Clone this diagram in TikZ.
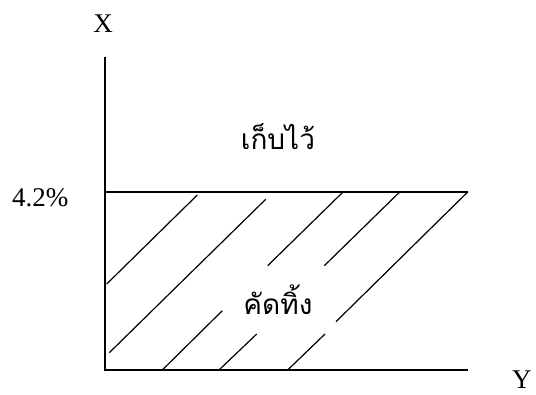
\documentclass[tikz,border=0pt]{standalone}
\usepackage{fontspec}
\setmainfont{Liberation Serif}
\newfontfamily\thaifont[Script=Thai]{Loma}
\begin{document}
\begin{tikzpicture}[x=1pt,y=-1pt,
  ax/.style={line width=1.4pt},
  hatch/.style={line width=1.2pt},
  lbl/.style={inner sep=0pt,font=\fontsize{27}{32}\selectfont},
  thai/.style={inner sep=0pt,font=\thaifont\fontsize{28}{34}\selectfont}]
\useasboundingbox (0,0) rectangle (536,395);
% axes
\coordinate (top) at (105,57);
\coordinate (orig) at (105,370);
\coordinate (xend) at (468,370);
\coordinate (lvlL) at (105,192);
\coordinate (lvlR) at (468,192);
\draw[ax] (top) -- (orig) -- (xend);
\draw[ax] (lvlL) -- (lvlR);
% hatching
\draw[hatch] (106.7,284) -- (197.3,195);
\draw[hatch] (109.3,352.7) -- (265.7,199.3);
\draw[hatch] (162.3,370) -- (222.3,310.7);
\draw[hatch] (267.7,265.7) -- (343.3,191.7);
\draw[hatch] (219,370) -- (256.7,334);
\draw[hatch] (324.3,265.7) -- (400,191.7);
\draw[hatch] (287.7,370) -- (325,334);
\draw[hatch] (336,321.7) -- (468,191.7);
% labels
\node[lbl,anchor=base] (xl) at (103,33) {X};
\node[lbl,anchor=base west] (pct) at (12,207) {4.2\%};
\node[lbl,anchor=base west] (yl) at (512,389) {Y};
\node[thai,anchor=base] (keep) at (278,150) {เก็บไว้};
\node[thai,anchor=base] (discard) at (278,315) {คัดทิ้ง};
\end{tikzpicture}
\end{document}
